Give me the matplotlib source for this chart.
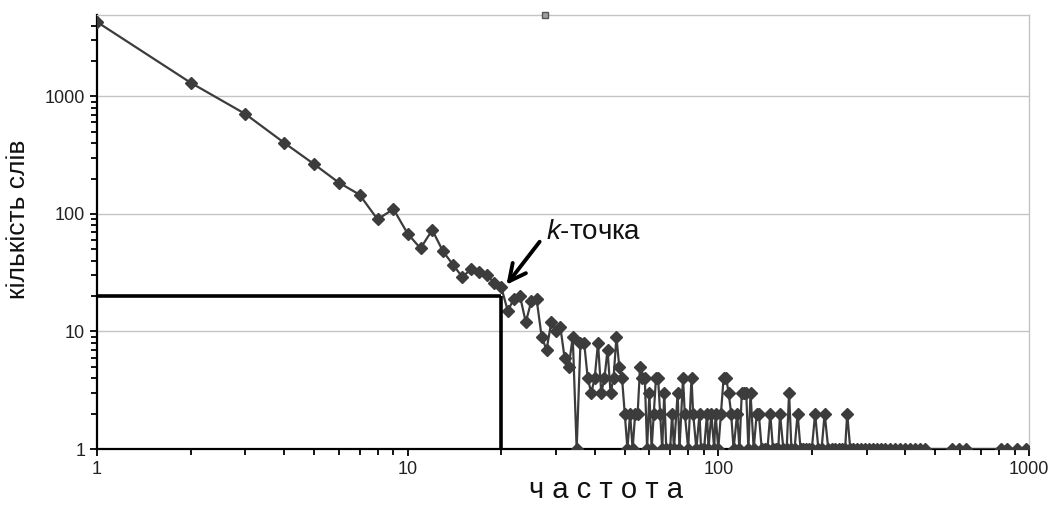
import matplotlib
matplotlib.use("Agg")
import matplotlib.pyplot as plt
from matplotlib.ticker import LogLocator, NullFormatter, FixedLocator

plt.rcParams["font.family"] = ["Liberation Sans", "DejaVu Sans"]
plt.rcParams["mathtext.fontset"] = "custom"
plt.rcParams["mathtext.it"] = "Liberation Sans:italic"
plt.rcParams["mathtext.rm"] = "Liberation Sans"

# word frequency (x) and number of words with that frequency (y)
freq = [
    1, 2, 3, 4, 5, 6, 7, 8, 9, 10, 11, 12, 13, 14, 15, 16, 17, 18, 19, 20,
    21, 22, 23, 24, 25, 26, 27, 28, 29, 30, 31, 32, 33, 34, 35, 36, 37, 38, 39, 40,
    41, 42, 43, 44, 45, 46, 47, 48, 49, 50, 51, 52, 53, 54, 55, 56, 57, 58, 59, 60,
    61, 62, 63, 64, 65, 66, 67, 68, 70, 71, 72, 74, 75, 77, 78, 80, 82, 83, 85, 87,
    88, 90, 92, 93, 95, 97, 98, 100, 102, 104, 106, 108, 110, 112, 115, 117, 119, 121,
    123, 125, 127, 130, 133, 135, 138, 141, 144, 147, 150, 153, 156, 158, 162, 166,
    169, 172, 176, 180, 184, 188, 192, 196, 200, 205, 210, 215, 220, 226, 232, 238,
    244, 250, 256, 260, 266, 272, 280, 288, 296, 305, 315, 325, 335, 345, 358, 370,
    385, 400, 415, 430, 446, 464, 565, 594, 629, 815, 850, 915, 980,
]
words = [
    4300, 1310, 710, 404, 265, 185, 146, 90, 110, 68, 51, 73, 48, 37, 29, 34, 32, 30, 26, 24,
    15, 19, 20, 12, 18, 19, 9, 7, 12, 10, 11, 6, 5, 9, 1, 8, 8, 4, 3, 4,
    8, 3, 4, 7, 3, 4, 9, 5, 4, 2, 1, 2, 1, 2, 2, 5, 4, 4, 1, 3,
    1, 2, 4, 4, 2, 1, 3, 1, 1, 2, 1, 3, 1, 4, 2, 1, 4, 2, 1, 2,
    1, 1, 2, 1, 2, 1, 2, 1, 2, 4, 4, 3, 2, 1, 2, 1, 3, 3,
    3, 1, 3, 1, 2, 2, 1, 1, 1, 2, 1, 1, 1, 2, 1, 1,
    3, 1, 1, 2, 1, 1, 1, 1, 1, 2, 1, 1, 2, 1, 1, 1,
    1, 1, 1, 2, 1, 1, 1, 1, 1, 1, 1, 1, 1, 1, 1, 1,
    1, 1, 1, 1, 1, 1, 1, 1, 1, 1, 1, 1, 1,
]

k_point = 20
k_words = 20

fig = plt.figure(figsize=(10.51, 5.08), dpi=100)
ax = fig.add_axes([0.0923, 0.1161, 0.8867, 0.8544])

ax.set_xscale("log")
ax.set_yscale("log")
ax.set_xlim(1, 1000)
ax.set_ylim(1, 4930)

ax.plot(freq, words, color="#3c3c3c", lw=1.6, marker="D", ms=6,
        mfc="#3c3c3c", mec="#3c3c3c", zorder=3)

# k-point guide lines
ax.plot([1, k_point], [k_words, k_words], color="black", lw=2.6, zorder=4, solid_capstyle="butt")
ax.plot([k_point, k_point], [1, k_words], color="black", lw=2.6, zorder=4, solid_capstyle="butt")

ax.annotate("", xy=(20.8, 25), xytext=(26.6, 58),
            arrowprops=dict(arrowstyle="->,head_length=1.2,head_width=0.6",
                            color="black", lw=2.8, shrinkA=0, shrinkB=0))
ax.text(27.8, 70, "$k$-точка", fontsize=20, ha="left", va="center", color="#111111")

ax.yaxis.set_major_locator(FixedLocator([1, 10, 100, 1000]))
ax.yaxis.set_minor_locator(LogLocator(base=10, subs=range(2, 10), numticks=20))
ax.xaxis.set_major_locator(FixedLocator([1, 10, 100, 1000]))
ax.xaxis.set_minor_locator(LogLocator(base=10, subs=range(2, 10), numticks=20))
ax.yaxis.set_minor_formatter(NullFormatter())
ax.xaxis.set_minor_formatter(NullFormatter())
ax.set_yticklabels(["1", "10", "100", "1000"])
ax.set_xticklabels(["1", "10", "100", "1000"])

ax.tick_params(which="both", direction="out", color="black", width=1.3,
               labelsize=13, labelcolor="#222222")
ax.tick_params(which="major", length=5)
ax.tick_params(which="minor", length=4)

ax.grid(True, which="major", axis="y", color="#c4c4c4", lw=1)
ax.set_axisbelow(True)

for side in ["left", "bottom"]:
    ax.spines[side].set_color("black")
    ax.spines[side].set_linewidth(1.6)
for side in ["top", "right"]:
    ax.spines[side].set_color("#c4c4c4")
    ax.spines[side].set_linewidth(1)

# small legend-like square at the top border
ax.plot([0.4807], [1.0], transform=ax.transAxes, marker="s", ms=5,
        mfc="#a0a0a0", mec="#555555", clip_on=False, zorder=5)

ax.set_ylabel("кількість слів", fontsize=19, color="#111111")
ax.yaxis.set_label_coords(-0.072, 0.53)
ax.set_xlabel("ч а с т о т а", fontsize=21, color="#111111")
ax.xaxis.set_label_coords((606 - 97) / 932, -0.063)

fig.savefig("out.png", dpi=100)
